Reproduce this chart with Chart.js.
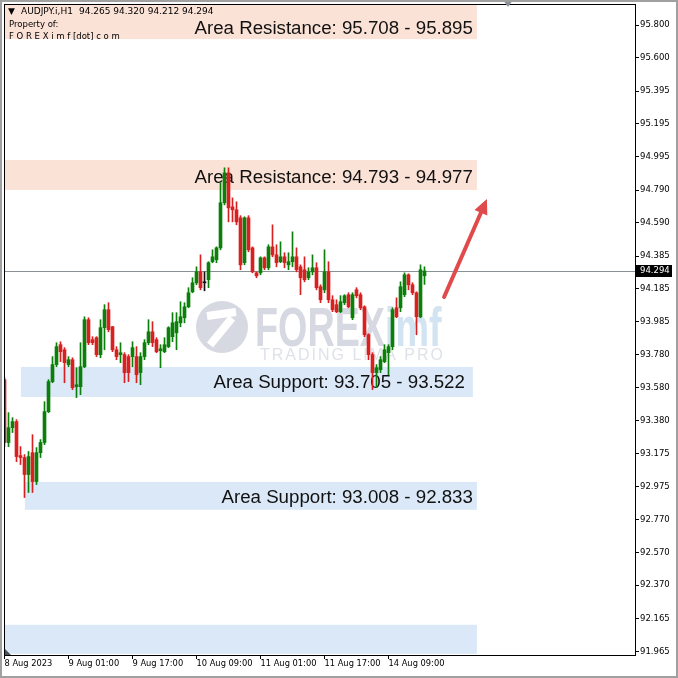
<!DOCTYPE html>
<html lang="en">
<head>
<meta charset="UTF-8">
<title>AUDJPY.i H1</title>
<script src="https://cdn.jsdelivr.net/npm/chart.js"></script>
<style>
  html, body { margin: 0; padding: 0; background: #fff; }
  #wrap { width: 678px; height: 678px; }
</style>
</head>
<body>
<div id="wrap"><canvas id="c" width="678" height="678"></canvas></div>
<script>
// H1 candles, 8 Aug 09:00 -> 14 Aug 18:00
const opens = [93.629,93.244,93.335,93.372,93.164,93.152,93.048,93.182,93.005,93.182,
  93.244,93.433,93.617,93.721,93.843,93.812,93.721,93.751,93.586,93.586,
  93.708,93.996,93.874,93.886,93.782,93.947,94.057,93.953,93.812,93.782,
  93.782,93.770,93.770,93.770,93.672,93.770,93.855,93.922,93.874,93.806,
  93.800,93.831,93.892,93.916,93.977,94.008,94.075,94.167,94.222,94.289,
  94.222,94.241,94.351,94.363,94.436,94.712,94.895,94.687,94.669,94.620,
  94.345,94.620,94.436,94.283,94.283,94.375,94.314,94.442,94.393,94.351,
  94.381,94.332,94.351,94.381,94.320,94.302,94.253,94.289,94.314,94.198,
  94.179,94.289,94.118,94.088,94.045,94.100,94.149,94.008,94.179,94.149,
  94.075,93.904,93.782,93.672,93.690,93.739,93.794,93.831,94.069,94.069,
  94.149,94.271,94.210,94.161,94.014,94.265];
const highs = [93.641,93.427,93.396,93.384,93.219,93.170,93.189,93.292,93.213,93.262,
  93.494,93.629,93.770,93.855,93.861,93.825,93.770,93.763,93.702,93.855,
  94.014,94.008,93.892,93.892,93.996,94.088,94.100,93.955,93.831,93.855,
  93.794,93.782,93.861,93.831,93.794,93.874,93.996,93.984,93.886,93.843,
  93.886,93.953,94.039,94.039,94.106,94.100,94.192,94.253,94.320,94.393,
  94.289,94.351,94.424,94.442,94.834,94.926,94.926,94.742,94.718,94.633,
  94.626,94.633,94.442,94.289,94.381,94.381,94.455,94.577,94.455,94.473,
  94.406,94.406,94.534,94.436,94.332,94.381,94.314,94.393,94.345,94.210,
  94.424,94.351,94.143,94.118,94.143,94.149,94.161,94.161,94.192,94.161,
  94.081,93.910,93.794,93.721,93.770,93.843,93.843,94.069,94.130,94.228,
  94.283,94.277,94.222,94.167,94.332,94.320];
const lows = [93.219,93.219,93.305,93.127,93.109,92.907,92.938,92.938,92.987,93.152,
  93.231,93.427,93.610,93.708,93.739,93.610,93.708,93.568,93.519,93.537,
  93.702,93.843,93.843,93.770,93.763,93.812,93.922,93.800,93.751,93.733,
  93.610,93.617,93.708,93.610,93.598,93.751,93.843,93.831,93.794,93.702,
  93.794,93.825,93.861,93.812,93.953,93.977,94.069,94.161,94.210,94.179,
  94.173,94.192,94.345,94.345,94.424,94.699,94.595,94.595,94.577,94.302,
  94.332,94.412,94.283,94.253,94.271,94.302,94.302,94.381,94.320,94.345,
  94.314,94.302,94.320,94.289,94.149,94.228,94.241,94.271,94.179,94.100,
  94.161,94.100,94.045,94.039,94.039,94.088,94.069,93.996,94.130,94.057,
  93.892,93.751,93.568,93.580,93.672,93.733,93.659,93.812,94.008,94.045,
  94.137,94.179,94.149,93.904,94.008,94.212];
const closes = [93.244,93.335,93.372,93.158,93.152,93.048,93.158,93.005,93.182,93.244,
  93.433,93.617,93.721,93.831,93.800,93.733,93.751,93.580,93.598,93.708,
  93.996,93.855,93.855,93.782,93.947,94.057,93.935,93.812,93.770,93.794,
  93.672,93.672,93.825,93.659,93.770,93.855,93.922,93.855,93.800,93.818,
  93.843,93.947,93.977,93.984,94.014,94.075,94.161,94.222,94.289,94.192,
  94.222,94.345,94.381,94.436,94.712,94.895,94.681,94.669,94.595,94.332,
  94.620,94.424,94.289,94.265,94.375,94.314,94.442,94.393,94.345,94.381,
  94.345,94.351,94.381,94.302,94.253,94.241,94.289,94.314,94.192,94.118,
  94.289,94.118,94.057,94.045,94.106,94.143,94.075,94.149,94.143,94.069,
  93.904,93.782,93.672,93.702,93.751,93.812,93.831,94.057,94.014,94.198,
  94.271,94.210,94.161,94.014,94.302,94.294];

const xTickIdx = [0, 16, 32, 48, 64, 80, 96];
const xTickLabels = ['8 Aug 2023', '9 Aug 01:00', '9 Aug 17:00', '10 Aug 09:00', '11 Aug 01:00', '11 Aug 17:00', '14 Aug 09:00'];
const yTicks = [95.800, 95.600, 95.395, 95.195, 94.995, 94.790, 94.590, 94.385, 94.185, 93.985,
  93.780, 93.580, 93.380, 93.175, 92.975, 92.770, 92.570, 92.370, 92.165, 91.965];

// zones drawn on the chart
const zoneLow = [95.714, 94.790, 93.523, 92.832, 91.950];
const zoneHigh = [95.935, 94.974, 93.707, 93.003, 92.128];
const zoneStart = [-0.2, -0.2, 4.1, 5.1, -0.2];
const zoneEnd = [118.1, 118.1, 117.1, 118.1, 118.1];
const zoneKind = ['res', 'res', 'sup', 'sup', 'sup'];
const zoneText = ['Area Resistance: 95.708 - 95.895', 'Area Resistance: 94.793 - 94.977',
  'Area Support: 93.705 - 93.522', 'Area Support: 93.008 - 92.833', ''];
const zoneTextAt = [95.785, 94.873, 93.618, 92.917, null];
const zoneTextEnd = [117.1, 117.1, 115.1, 117.1, null];

const headerQuote = ['94.265', '94.320', '94.212', '94.294'];
const arrowFrom = [109.9, 94.135];
const arrowTo = [120.6, 94.735];

const BULL = '#0a800a', BEAR = '#d92020', DOJI = '#111111';
const candleColor = opens.map((o, i) => closes[i] > o ? BULL : (closes[i] < o ? BEAR : DOJI));

const overlay = {
  id: 'overlay',
  beforeDraw(chart) {
    const ctx = chart.ctx;
    ctx.save();
    ctx.fillStyle = '#fff';
    ctx.fillRect(0, 0, chart.width, chart.height);
    ctx.restore();
  },
  beforeDatasetsDraw(chart) {
    const { ctx, chartArea: a, scales: { x, y } } = chart;
    ctx.save();
    ctx.beginPath();
    ctx.rect(a.left, a.top, a.right - a.left, a.bottom - a.top);
    ctx.clip();

    // zones
    for (let k = 0; k < zoneLow.length; k++) {
      const x1 = x.getPixelForValue(zoneStart[k]), x2 = x.getPixelForValue(zoneEnd[k]);
      const y1 = y.getPixelForValue(zoneHigh[k]), y2 = y.getPixelForValue(zoneLow[k]);
      ctx.fillStyle = zoneKind[k] === 'res' ? '#fbe2d7' : '#dae8f7';
      ctx.fillRect(x1, y1, x2 - x1, y2 - y1);
    }

    // watermark
    ctx.fillStyle = '#d6d9e1';
    ctx.beginPath();
    ctx.arc(222, 327, 26, 0, Math.PI * 2);
    ctx.fill();
    ctx.strokeStyle = '#fff';
    ctx.lineWidth = 8;
    ctx.lineCap = 'butt';
    ctx.beginPath();
    ctx.moveTo(210, 345);
    ctx.lineTo(232, 318);
    ctx.stroke();
    ctx.beginPath();
    ctx.moveTo(207, 316);
    ctx.lineTo(236, 312);
    ctx.stroke();
    ctx.save();
    ctx.translate(255, 346);
    ctx.scale(0.674, 1);
    ctx.font = 'bold 56px "Liberation Sans"';
    ctx.textBaseline = 'alphabetic';
    ctx.fillStyle = '#d6d9e1';
    ctx.fillText('FOREX', 0, 0);
    const w = ctx.measureText('FOREX').width;
    ctx.fillStyle = '#d2e4f1';
    ctx.fillText('imf', w, 0);
    ctx.restore();
    ctx.font = '16px "Liberation Sans"';
    ctx.letterSpacing = '2px';
    ctx.fillStyle = '#dfe2e8';
    ctx.textBaseline = 'middle';
    ctx.fillText('TRADING LIMA PRO', 260, 356);
    ctx.letterSpacing = '0px';

    // current price line
    const py = Math.round(y.getPixelForValue(closes[closes.length - 1])) + 0.5;
    ctx.strokeStyle = '#8a9196';
    ctx.lineWidth = 1;
    ctx.beginPath();
    ctx.moveTo(a.left, py);
    ctx.lineTo(a.right, py);
    ctx.stroke();

    // zone labels
    ctx.font = '18.7px "Liberation Sans"';
    ctx.fillStyle = '#111';
    ctx.textAlign = 'right';
    ctx.textBaseline = 'alphabetic';
    for (let k = 0; k < zoneText.length; k++) {
      if (!zoneText[k]) continue;
      const tx = x.getPixelForValue(zoneTextEnd[k]);
      const ty = y.getPixelForValue(zoneTextAt[k]) + 18.7 * 0.358;
      ctx.fillText(zoneText[k], tx, ty);
    }
    ctx.restore();
  },
  afterDraw(chart) {
    const { ctx, chartArea: a, scales: { x, y } } = chart;
    ctx.save();

    // arrow
    const ax = x.getPixelForValue(arrowFrom[0]), ay = y.getPixelForValue(arrowFrom[1]);
    const bx = x.getPixelForValue(arrowTo[0]), by = y.getPixelForValue(arrowTo[1]);
    const ang = Math.atan2(by - ay, bx - ax);
    const head = 15;
    const hx = bx - head * Math.cos(ang), hy = by - head * Math.sin(ang);
    ctx.strokeStyle = '#e04a4a';
    ctx.fillStyle = '#e04a4a';
    ctx.lineWidth = 4;
    ctx.lineCap = 'round';
    ctx.beginPath();
    ctx.moveTo(ax, ay);
    ctx.lineTo(hx, hy);
    ctx.stroke();
    ctx.beginPath();
    ctx.moveTo(bx, by);
    ctx.lineTo(hx + 7 * Math.sin(ang), hy - 7 * Math.cos(ang));
    ctx.lineTo(hx - 7 * Math.sin(ang), hy + 7 * Math.cos(ang));
    ctx.closePath();
    ctx.fill();

    // plot frame
    ctx.strokeStyle = '#000';
    ctx.lineWidth = 1;
    ctx.strokeRect(Math.round(a.left) + 0.5, Math.round(a.top) + 0.5,
      Math.round(a.right - a.left), Math.round(a.bottom - a.top));

    // header text
    ctx.fillStyle = '#000';
    ctx.textAlign = 'left';
    ctx.textBaseline = 'middle';
    ctx.font = '9px "DejaVu Sans"';
    ctx.fillText('\u25BC', 8, 12);
    ctx.fillText('AUDJPY.i,H1', 21, 12);
    const symW = ctx.measureText('AUDJPY.i,H1').width;
    ctx.fillText(headerQuote.join(' '), 21 + symW + 6, 12);
    ctx.font = '8.5px "DejaVu Sans"';
    ctx.fillText('Property of:', 9, 25);
    ctx.fillText('F O R E X i m f [dot] c o m', 9, 37);

    // shift markers
    ctx.fillStyle = '#8a9098';
    ctx.beginPath();
    ctx.moveTo(503, 0);
    ctx.lineTo(513, 0);
    ctx.lineTo(508, 7);
    ctx.closePath();
    ctx.fill();
    ctx.fillStyle = '#4a5058';
    ctx.beginPath();
    ctx.moveTo(5, a.bottom - 6);
    ctx.lineTo(5, a.bottom);
    ctx.lineTo(11, a.bottom);
    ctx.closePath();
    ctx.fill();

    // price box
    const py = Math.round(y.getPixelForValue(closes[closes.length - 1]));
    ctx.fillStyle = '#000';
    ctx.fillRect(a.right + 1, py - 6, 36, 12);
    ctx.fillStyle = '#fff';
    ctx.font = '8.5px "DejaVu Sans"';
    ctx.fillText(closes[closes.length - 1].toFixed(3), a.right + 5, py);

    // window frame
    ctx.strokeStyle = '#a0a0a0';
    ctx.lineWidth = 2;
    ctx.strokeRect(1, 1, chart.width - 2, chart.height - 2);
    ctx.restore();
  }
};

new Chart(document.getElementById('c'), {
  type: 'bar',
  data: {
    datasets: [
      {
        label: 'wick',
        data: lows.map((l, i) => ({ x: i, y: [l, highs[i]] })),
        backgroundColor: candleColor,
        barThickness: 1,
        borderWidth: 0,
        borderSkipped: false,
        grouped: false,
        order: 2
      },
      {
        label: 'body',
        data: opens.map((o, i) => ({ x: i, y: [o, closes[i]] })),
        backgroundColor: candleColor,
        barThickness: 3,
        minBarLength: 1,
        borderWidth: 0,
        borderSkipped: false,
        grouped: false,
        order: 1
      }
    ]
  },
  options: {
    responsive: false,
    animation: false,
    devicePixelRatio: 1,
    layout: { padding: { left: 4, top: 4, right: 0, bottom: 0 } },
    plugins: { legend: { display: false }, tooltip: { enabled: false } },
    scales: {
      x: {
        type: 'linear',
        min: -0.125,
        max: 157.625,
        offset: false,
        afterBuildTicks: s => { s.ticks = xTickIdx.map(v => ({ value: v })); },
        afterFit: s => { s.height = 23; s.paddingLeft = 0; s.paddingRight = 0; },
        ticks: {
          callback: (v, i) => xTickLabels[i],
          align: 'start',
          autoSkip: false,
          maxRotation: 0,
          minRotation: 0,
          padding: 0,
          color: '#000',
          font: { family: 'DejaVu Sans', size: 8.3 }
        },
        grid: { drawOnChartArea: false, tickLength: 4, color: '#000', offset: false },
        border: { display: true, color: '#000' }
      },
      y: {
        position: 'right',
        min: 91.943,
        max: 95.929,
        afterBuildTicks: s => { s.ticks = yTicks.map(v => ({ value: v })); },
        afterFit: s => { s.width = 43; s.paddingTop = 0; s.paddingBottom = 0; },
        ticks: {
          callback: v => v.toFixed(3),
          autoSkip: false,
          padding: 1,
          color: '#000',
          font: { family: 'DejaVu Sans', size: 8.5 }
        },
        grid: { drawOnChartArea: false, tickLength: 4, color: '#000' },
        border: { display: true, color: '#000' }
      }
    }
  },
  plugins: [overlay]
});
</script>
</body>
</html>
